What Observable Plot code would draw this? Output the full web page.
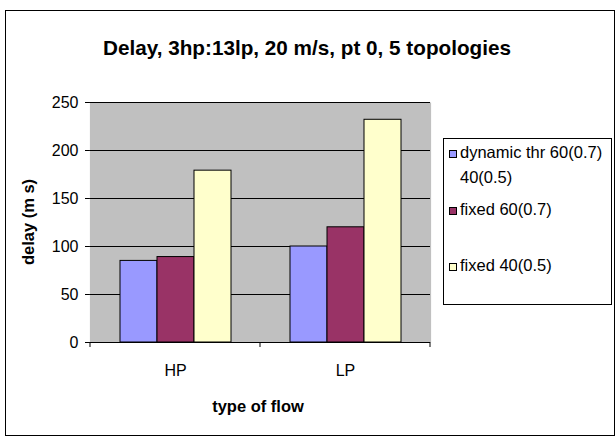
<!DOCTYPE html>
<html><head><meta charset="utf-8">
<script src="https://cdn.jsdelivr.net/npm/d3@7"></script>
<script src="https://cdn.jsdelivr.net/npm/@observablehq/plot@0.6"></script>
<style>
body{margin:0;background:#fff;}
#wrap{position:relative;width:616px;height:437px;font-family:"Liberation Sans",Arial,sans-serif;}
#wrap > svg{position:absolute;left:0;top:0;}
</style></head><body><div id="wrap"></div>
<script>
const categories = ["HP", "LP"];
const seriesNames = ["dynamic thr 60(0.7) 40(0.5)", "fixed 60(0.7)", "fixed 40(0.5)"];
const legendLines = [["dynamic thr 60(0.7)", "40(0.5)"], ["fixed 60(0.7)"], ["fixed 40(0.5)"]];
const hpValues = [85, 89, 179];
const lpValues = [100, 120, 232];
const seriesColors = ["#9999FF", "#993366", "#FFFFCC"];
const yTicks = [0, 50, 100, 150, 200, 250];
const titleText = "Delay, 3hp:13lp, 20 m/s, pt 0, 5 topologies";
const xLabel = "type of flow";
const yLabel = "delay (m s)";

const valuesByCategory = [hpValues, lpValues];
const data = [];
categories.forEach((c, ci) => {
  seriesNames.forEach((s, si) => data.push({category: c, series: s, value: valuesByCategory[ci][si]}));
});

const FONT = '"Liberation Sans", Arial, sans-serif';
const chart = Plot.plot({
  width: 616, height: 437,
  marginLeft: 90, marginRight: 186, marginTop: 102, marginBottom: 95,
  style: {fontFamily: FONT, fontSize: "16px", color: "#000", background: "transparent", overflow: "visible"},
  fx: {domain: categories, padding: 0, axis: "bottom", tickSize: 0, tickPadding: 22, label: null},
  x: {domain: seriesNames, paddingInner: 0, paddingOuter: 0.737, axis: null},
  y: {domain: [0, 250], ticks: yTicks, tickSize: 5, tickPadding: 7, label: null, line: true},
  color: {domain: seriesNames, range: seriesColors},
  marks: [
    Plot.frame({fill: "#C0C0C0", stroke: null, insetLeft: -0.6, insetRight: -0.6}),
    Plot.gridY(yTicks.slice(1), {stroke: "#000", strokeOpacity: 1}),
    Plot.barY(data, {fx: "category", x: "series", y: "value", fill: "series", stroke: "#000", strokeWidth: 1}),
    Plot.ruleY([0], {stroke: "#000"})
  ]
});
document.getElementById("wrap").appendChild(chart);

// category boundary ticks on the x axis, from the library's scales
const fxs = chart.scale("fx");
const ys = chart.scale("y");
const y0 = ys.apply(0);
const edges = categories.map(c => fxs.apply(c)).concat([fxs.apply(categories[categories.length - 1]) + fxs.bandwidth]);
d3.select(chart).append("g").selectAll("line").data(edges).join("line")
  .attr("x1", d => d).attr("x2", d => d).attr("y1", y0).attr("y2", y0 + 5)
  .attr("stroke", "#000");

// overlay: border, title, axis labels, legend
const ov = d3.select("#wrap").append("svg").attr("width", 616).attr("height", 437)
  .style("font-family", FONT);
ov.append("rect").attr("x", 5.5).attr("y", 10.5).attr("width", 609).attr("height", 425)
  .attr("fill", "none").attr("stroke", "#000");
ov.append("text").attr("x", 307).attr("y", 55).attr("text-anchor", "middle")
  .attr("font-size", 21).attr("font-weight", "bold")
  .attr("textLength", 408).attr("lengthAdjust", "spacingAndGlyphs").text(titleText);
ov.append("text").attr("x", 258).attr("y", 412).attr("text-anchor", "middle")
  .attr("font-size", 16.5).attr("font-weight", "bold").text(xLabel);
ov.append("text").attr("transform", "translate(34,222) rotate(-90)").attr("text-anchor", "middle")
  .attr("font-size", 16.5).attr("font-weight", "bold").text(yLabel);

ov.append("rect").attr("x", 443.5).attr("y", 138.5).attr("width", 168).attr("height", 166)
  .attr("fill", "#fff").attr("stroke", "#000");
const entryBaselines = [158, 215, 271];
legendLines.forEach((lines, i) => {
  const b = entryBaselines[i];
  ov.append("rect").attr("x", 449.5).attr("y", b - 7.5).attr("width", 7).attr("height", 7)
    .attr("fill", seriesColors[i]).attr("stroke", "#000");
  lines.forEach((t, j) => {
    ov.append("text").attr("x", 460).attr("y", b + j * 25).attr("font-size", 16.5).text(t);
  });
});
</script></body></html>
